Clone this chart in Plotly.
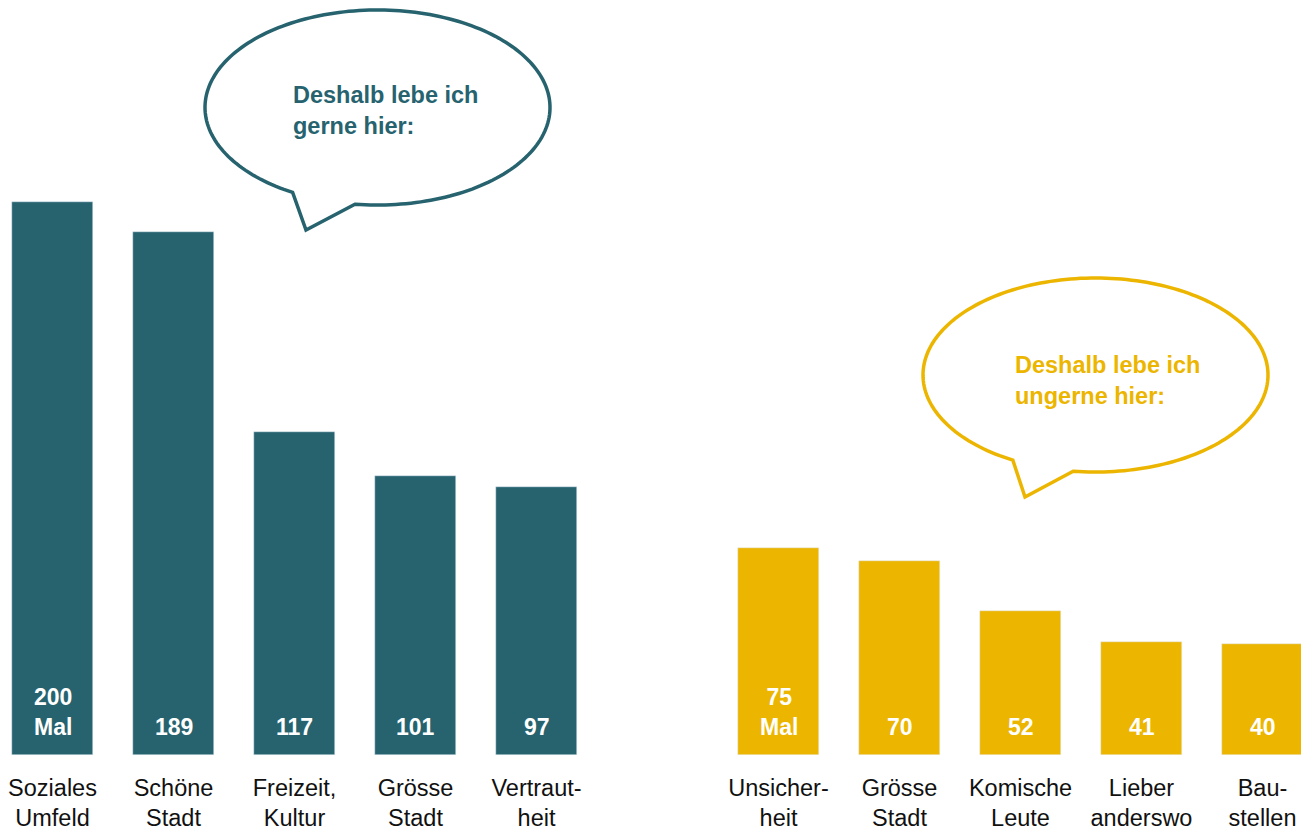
import numpy as np
import plotly.graph_objects as go

# ---- data ----
pos_labels = ["Soziales<br>Umfeld", "Schöne<br>Stadt", "Freizeit,<br>Kultur", "Grösse<br>Stadt", "Vertraut-<br>heit"]
pos_values = [200, 189, 117, 101, 97]
pos_text = ["200<br>Mal", "189", "117", "101", "97"]

neg_labels = ["Unsicher-<br>heit", "Grösse<br>Stadt", "Komische<br>Leute", "Lieber<br>anderswo", "Bau-<br>stellen"]
neg_values = [75, 70, 52, 41, 40]
neg_text = ["75<br>Mal", "70", "52", "41", "40"]

pos_x = [0, 1, 2, 3, 4]
neg_x = [6, 7, 8, 9, 10]

TEAL = "#26636F"
YELLOW = "#ECB500"
FONT = "Liberation Sans, Arial, sans-serif"

OFF = 8  # page body margin
W, H = 1309 - OFF, 832 - OFF
PH = 755 - OFF          # plot area height (bar baseline)
MB = H - PH

fig = go.Figure()
fig.add_trace(go.Bar(x=pos_x, y=pos_values, marker_color=TEAL, width=0.67, hoverinfo="skip"))
fig.add_trace(go.Bar(x=neg_x, y=neg_values, marker_color=YELLOW, width=0.67, hoverinfo="skip"))

for xs, ts in ((pos_x, pos_text), (neg_x, neg_text)):
    for x, t in zip(xs, ts):
        fig.add_annotation(x=x, y=0, xref="x", yref="y", text=t, showarrow=False,
                           yanchor="bottom", yshift=13,
                           font=dict(family=FONT, size=23, color="white", weight="bold"))

def px2paper(px, py):
    return (px - OFF) / W, (PH - (py - OFF)) / PH

def bubble(cx, cy, rx, ry, p_start, tip, p_end):
    a0 = np.arctan2((p_end[1] - cy) / ry, (p_end[0] - cx) / rx)
    a1 = np.arctan2((p_start[1] - cy) / ry, (p_start[0] - cx) / rx)
    if a1 > a0:
        a1 -= 2 * np.pi
    ts = np.linspace(a0, a1, 200)
    pts = [(cx + rx * np.cos(t), cy + ry * np.sin(t)) for t in ts]
    pts.append(tip)
    segs = []
    for i, (x, y) in enumerate(pts):
        u, v = px2paper(x, y)
        segs.append(("M" if i == 0 else "L") + f"{u:.5f},{v:.5f}")
    return " ".join(segs) + " Z"

fig.add_shape(type="path", xref="paper", yref="paper",
              path=bubble(377.5, 107.5, 172.5, 97.5, (294, 191), (306, 230), (355, 204)),
              line=dict(color=TEAL, width=3.5), fillcolor="white", layer="above")
fig.add_shape(type="path", xref="paper", yref="paper",
              path=bubble(1095.5, 375, 172.5, 97, (1012, 461), (1025, 497), (1073, 472)),
              line=dict(color=YELLOW, width=3.5), fillcolor="white", layer="above")

u, v = px2paper(291, 110)
fig.add_annotation(x=u, y=v, xref="paper", yref="paper", text="Deshalb lebe ich<br>gerne hier:",
                   showarrow=False, xanchor="left", yanchor="middle", align="left",
                   font=dict(family=FONT, size=23.5, color=TEAL, weight="bold"))
u, v = px2paper(1013, 380)
fig.add_annotation(x=u, y=v, xref="paper", yref="paper", text="Deshalb lebe ich<br>ungerne hier:",
                   showarrow=False, xanchor="left", yanchor="middle", align="left",
                   font=dict(family=FONT, size=23.5, color=YELLOW, weight="bold"))

slot = 121.0
x0 = -(52.5 - OFF) / slot
x1 = x0 + W / slot
fig.update_layout(
    width=W, height=H,
    margin=dict(l=0, r=0, t=0, b=MB),
    paper_bgcolor="white", plot_bgcolor="white",
    showlegend=False, bargap=0,
    xaxis=dict(range=[x0, x1], tickvals=pos_x + neg_x, ticktext=pos_labels + neg_labels,
               showgrid=False, zeroline=False, showline=False, ticks="",
               tickfont=dict(family=FONT, size=23.5, color="#111111"), ticklabelstandoff=16),
    yaxis=dict(range=[0, PH / 2.765], visible=False, fixedrange=True),
)

fig.write_html("out.html")
